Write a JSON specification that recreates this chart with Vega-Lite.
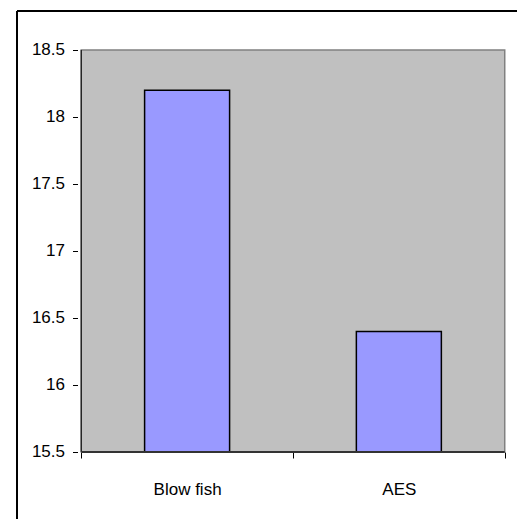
{
  "$schema": "https://vega.github.io/schema/vega-lite/v6.json",
  "width": 510,
  "height": 508,
  "autosize": {"type": "none"},
  "padding": {"left": 12, "top": 11, "right": 0, "bottom": 0},
  "background": "white",
  "config": {"view": {"stroke": null}},
  "data": {"values": [
    {"category": "Blow fish", "idx": 1, "value": 18.2},
    {"category": "AES", "idx": 2, "value": 16.4}
  ]},
  "layer": [
    {
      "data": {"values": [{}]},
      "mark": {"type": "rect", "fill": "#C0C0C0", "stroke": "#808080", "strokeWidth": 1.5},
      "encoding": {
        "x": {"datum": 0.5, "type": "quantitative", "scale": {"domain": [0.19676, 2.5579], "nice": false, "zero": false}},
        "x2": {"datum": 2.5},
        "y": {"datum": 15.5, "type": "quantitative", "scale": {"domain": [15.0, 18.791], "nice": false, "zero": false}},
        "y2": {"datum": 18.5}
      }
    },
    {
      "mark": {"type": "bar", "width": 85, "fill": "#9999FF", "stroke": "black", "strokeWidth": 1.5},
      "encoding": {
        "x": {
          "field": "idx", "type": "quantitative",
          "scale": {"domain": [0.19676, 2.5579], "nice": false, "zero": false},
          "axis": {
            "title": null, "orient": "bottom", "offset": -67,
            "values": [0.5, 1, 1.5, 2, 2.5],
            "labelExpr": "datum.value == 1 ? 'Blow fish' : datum.value == 2 ? 'AES' : ''",
            "domain": false, "grid": false,
            "ticks": true, "tickSize": 6, "tickColor": "black", "tickWidth": 1,
            "tickOpacity": {"condition": {"test": "datum.value == 1 || datum.value == 2", "value": 0}, "value": 1},
            "labelFont": "Liberation Sans", "labelFontSize": 17, "labelColor": "black",
            "labelPadding": 23, "labelFlush": false, "labelOverlap": false
          }
        },
        "y": {
          "field": "value", "type": "quantitative",
          "scale": {"domain": [15.0, 18.791], "nice": false, "zero": false},
          "axis": {
            "title": null, "orient": "left", "offset": -65.5,
            "values": [15.5, 16, 16.5, 17, 17.5, 18, 18.5],
            "format": "~g",
            "domain": false, "grid": false,
            "tickSize": 5, "tickColor": "black", "tickWidth": 1,
            "labelFont": "Liberation Sans", "labelFontSize": 17, "labelColor": "black",
            "labelPadding": 8, "labelFlush": false, "labelOverlap": false
          }
        },
        "y2": {"datum": 15.5}
      }
    },
    {
      "data": {"values": [{}]},
      "mark": {"type": "rule", "color": "black", "strokeWidth": 1},
      "encoding": {
        "x": {"datum": 0.5, "type": "quantitative"},
        "y": {"datum": 15.5, "type": "quantitative"},
        "y2": {"datum": 18.5}
      }
    },
    {
      "data": {"values": [{}]},
      "mark": {"type": "rule", "color": "#333333", "strokeWidth": 2},
      "encoding": {
        "x": {"datum": 0.5, "type": "quantitative"},
        "x2": {"datum": 2.5},
        "y": {"datum": 15.5, "type": "quantitative"}
      }
    },
    {
      "data": {"values": [{}]},
      "mark": {"type": "rule", "color": "black", "strokeWidth": 2},
      "encoding": {
        "x": {"datum": 0.19676, "type": "quantitative"},
        "y": {"datum": 15.0, "type": "quantitative"},
        "y2": {"datum": 18.791}
      }
    },
    {
      "data": {"values": [{}]},
      "mark": {"type": "rule", "color": "black", "strokeWidth": 2},
      "encoding": {
        "x": {"datum": 0.19676, "type": "quantitative"},
        "x2": {"datum": 2.5579},
        "y": {"datum": 18.791, "type": "quantitative"}
      }
    }
  ]
}
